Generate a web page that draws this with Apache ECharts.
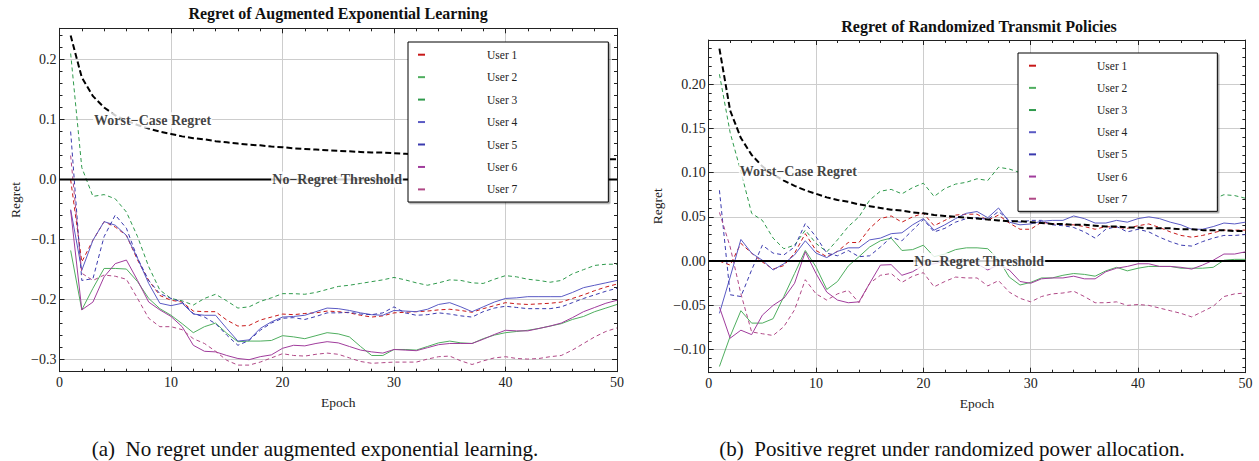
<!DOCTYPE html>
<html>
<head>
<meta charset="utf-8">
<script src="https://cdn.jsdelivr.net/npm/echarts@6/dist/echarts.min.js"></script>
<style>
html,body{margin:0;padding:0;background:#fff;}
#chart{width:1259px;height:461px;}
</style>
</head>
<body>
<div id="chart"></div>
<script>
// ---------------- DATA ----------------
const epochs = [1,2,3,4,5,6,7,8,9,10,11,12,13,14,15,16,17,18,19,20,21,22,23,24,25,26,27,28,29,30,31,32,33,34,35,36,37,38,39,40,41,42,43,44,45,46,47,48,49,50];
const userNames = ['User 1','User 2','User 3','User 4','User 5','User 6','User 7'];

// (a) Augmented exponential learning
const aUser1 = [0.0,-0.137,-0.101,-0.07,-0.079,-0.093,-0.134,-0.168,-0.193,-0.201,-0.204,-0.219,-0.22,-0.22,-0.234,-0.244,-0.243,-0.234,-0.229,-0.224,-0.225,-0.223,-0.222,-0.219,-0.22,-0.222,-0.226,-0.229,-0.227,-0.222,-0.221,-0.22,-0.219,-0.217,-0.216,-0.218,-0.221,-0.215,-0.21,-0.205,-0.207,-0.208,-0.207,-0.206,-0.204,-0.198,-0.192,-0.185,-0.179,-0.174];
const aUser2 = [-0.118,-0.217,-0.181,-0.148,-0.148,-0.149,-0.17,-0.198,-0.215,-0.226,-0.24,-0.255,-0.245,-0.239,-0.256,-0.27,-0.269,-0.269,-0.268,-0.26,-0.262,-0.265,-0.26,-0.255,-0.257,-0.262,-0.278,-0.293,-0.293,-0.283,-0.283,-0.284,-0.278,-0.272,-0.269,-0.272,-0.273,-0.265,-0.259,-0.255,-0.253,-0.251,-0.248,-0.244,-0.24,-0.233,-0.228,-0.22,-0.214,-0.208];
const aUser3 = [0.21,0.02,-0.028,-0.025,-0.032,-0.054,-0.095,-0.145,-0.184,-0.198,-0.202,-0.209,-0.198,-0.191,-0.202,-0.214,-0.212,-0.203,-0.197,-0.19,-0.19,-0.191,-0.188,-0.183,-0.178,-0.176,-0.173,-0.17,-0.167,-0.163,-0.167,-0.172,-0.176,-0.172,-0.167,-0.168,-0.172,-0.173,-0.166,-0.16,-0.162,-0.166,-0.168,-0.171,-0.168,-0.157,-0.15,-0.143,-0.141,-0.141];
const aUser4 = [-0.05,-0.151,-0.101,-0.07,-0.076,-0.093,-0.131,-0.173,-0.206,-0.21,-0.206,-0.224,-0.226,-0.226,-0.248,-0.269,-0.267,-0.248,-0.237,-0.229,-0.228,-0.226,-0.22,-0.214,-0.215,-0.218,-0.222,-0.225,-0.226,-0.218,-0.219,-0.22,-0.216,-0.208,-0.205,-0.212,-0.22,-0.212,-0.204,-0.198,-0.197,-0.195,-0.195,-0.195,-0.195,-0.188,-0.18,-0.176,-0.172,-0.168];
const aUser5 = [0.08,-0.168,-0.165,-0.095,-0.059,-0.081,-0.131,-0.168,-0.19,-0.198,-0.204,-0.223,-0.229,-0.24,-0.259,-0.276,-0.268,-0.251,-0.239,-0.231,-0.23,-0.233,-0.228,-0.222,-0.222,-0.221,-0.224,-0.225,-0.222,-0.212,-0.222,-0.226,-0.225,-0.222,-0.224,-0.227,-0.229,-0.22,-0.214,-0.211,-0.213,-0.215,-0.215,-0.215,-0.212,-0.205,-0.198,-0.192,-0.186,-0.181];
const aUser6 = [-0.051,-0.217,-0.204,-0.162,-0.14,-0.134,-0.168,-0.204,-0.217,-0.228,-0.245,-0.276,-0.286,-0.287,-0.293,-0.298,-0.3,-0.295,-0.292,-0.281,-0.276,-0.277,-0.273,-0.27,-0.272,-0.278,-0.284,-0.287,-0.289,-0.283,-0.284,-0.285,-0.28,-0.275,-0.273,-0.273,-0.273,-0.266,-0.258,-0.251,-0.252,-0.252,-0.248,-0.244,-0.239,-0.23,-0.22,-0.213,-0.206,-0.201];
const aUser7 = [0.04,-0.156,-0.168,-0.159,-0.161,-0.166,-0.198,-0.231,-0.245,-0.245,-0.25,-0.265,-0.273,-0.286,-0.301,-0.309,-0.309,-0.304,-0.297,-0.29,-0.293,-0.294,-0.291,-0.289,-0.291,-0.297,-0.303,-0.306,-0.305,-0.304,-0.304,-0.304,-0.299,-0.295,-0.294,-0.302,-0.308,-0.302,-0.297,-0.295,-0.298,-0.299,-0.298,-0.295,-0.293,-0.284,-0.273,-0.262,-0.253,-0.247];

// (b) Randomized transmit policies
const bUser1 = [0.0,-0.0045,0.02,0.009,-0.001,-0.009,-0.005,0.009,0.031,0.012,0.005,0.011,0.021,0.021,0.037,0.048,0.051,0.044,0.05,0.054,0.04,0.046,0.052,0.053,0.053,0.046,0.052,0.043,0.036,0.036,0.044,0.042,0.041,0.041,0.039,0.036,0.039,0.038,0.037,0.04,0.042,0.038,0.033,0.029,0.027,0.029,0.032,0.035,0.035,0.035];
const bUser2 = [-0.119,-0.085,-0.056,-0.07,-0.07,-0.065,-0.04,-0.014,0.012,-0.0065,-0.032,-0.023,-0.0055,0.005,0.016,0.023,0.026,0.012,0.013,0.018,0.005,0.008,0.013,0.015,0.015,0.014,0.002,-0.018,-0.027,-0.024,-0.019,-0.019,-0.016,-0.014,-0.015,-0.017,-0.011,-0.007,-0.011,-0.008,-0.006,-0.006,-0.006,-0.008,-0.008,-0.008,-0.007,0.001,0.002,0.002];
const bUser3 = [0.211,0.145,0.101,0.054,0.046,0.026,0.014,0.018,0.035,0.02,0.0105,0.024,0.039,0.05,0.069,0.079,0.081,0.076,0.083,0.088,0.073,0.082,0.087,0.089,0.093,0.091,0.106,0.104,0.1,0.098,0.095,0.093,0.09,0.088,0.09,0.087,0.084,0.082,0.085,0.08,0.078,0.076,0.074,0.072,0.07,0.068,0.07,0.075,0.074,0.071];
const bUser4 = [-0.059,-0.018,0.0245,0.009,0.001,-0.01,-0.003,0.007,0.023,0.009,0.004,0.011,0.015,0.015,0.024,0.026,0.031,0.032,0.041,0.048,0.035,0.041,0.048,0.054,0.056,0.049,0.06,0.044,0.041,0.042,0.045,0.046,0.046,0.051,0.048,0.043,0.043,0.046,0.044,0.048,0.05,0.048,0.044,0.041,0.036,0.036,0.039,0.043,0.042,0.044];
const bUser5 = [0.08,-0.038,-0.04,-0.01,0.018,0.009,0.007,0.016,0.0425,0.0275,0.009,0.006,0.012,0.005,0.006,0.016,0.027,0.023,0.035,0.047,0.033,0.037,0.044,0.048,0.049,0.047,0.056,0.046,0.044,0.046,0.046,0.041,0.04,0.038,0.033,0.026,0.036,0.039,0.033,0.036,0.033,0.027,0.022,0.018,0.017,0.022,0.026,0.029,0.029,0.03];
const bUser6 = [-0.052,-0.087,-0.078,-0.083,-0.061,-0.05,-0.042,-0.025,0.0105,-0.014,-0.035,-0.044,-0.047,-0.046,-0.025,-0.0045,-0.004,-0.016,-0.012,-0.0045,-0.003,0.0,0.002,0.0,-0.003,-0.01,-0.004,-0.01,-0.023,-0.025,-0.02,-0.019,-0.019,-0.017,-0.02,-0.02,-0.012,-0.008,-0.006,-0.003,-0.003,-0.006,-0.006,-0.007,-0.009,-0.0045,0.001,0.008,0.008,0.0105];
const bUser7 = [0.055,0.016,-0.037,-0.08,-0.082,-0.084,-0.074,-0.055,-0.021,-0.037,-0.044,-0.037,-0.033,-0.047,-0.025,-0.016,-0.014,-0.024,-0.017,-0.013,-0.029,-0.023,-0.018,-0.019,-0.019,-0.028,-0.022,-0.035,-0.042,-0.046,-0.04,-0.037,-0.036,-0.034,-0.04,-0.047,-0.047,-0.046,-0.05,-0.049,-0.05,-0.053,-0.056,-0.059,-0.063,-0.057,-0.051,-0.04,-0.037,-0.036];

// Worst-case regret bound (same in both panels) and the no-regret threshold
const worstCase = [0.24,0.17,0.139,0.12,0.107,0.098,0.091,0.085,0.08,0.076,0.072,0.069,0.067,0.064,0.062,0.06,0.058,0.057,0.055,0.054,0.052,0.051,0.05,0.049,0.048,0.047,0.046,0.045,0.045,0.044,0.043,0.042,0.042,0.041,0.041,0.04,0.039,0.039,0.038,0.038,0.037,0.037,0.037,0.036,0.036,0.035,0.035,0.035,0.034,0.034];
const thresholdX = [0, 50];
const thresholdY = [0, 0];

// Tick values
const xTicks = [0, 10, 20, 30, 40, 50];
const aYTicks = [-0.3, -0.2, -0.1, 0.0, 0.1, 0.2];
const bYTicks = [-0.10, -0.05, 0.00, 0.05, 0.10, 0.15, 0.20];

// Texts
const titleA = 'Regret of Augmented Exponential Learning';
const titleB = 'Regret of Randomized Transmit Policies';
const captionA = '(a)  No regret under augmented exponential learning.';
const captionB = '(b)  Positive regret under randomized power allocation.';
const worstLabel = 'Worst\u2212Case Regret';
const thresholdLabel = 'No\u2212Regret Threshold';

// ---------------- STYLE ----------------
const F = "'Liberation Serif', 'Times New Roman', serif";
const colors = ['#c81818', '#4fae5f', '#2f9a4c', '#5a5ac4', '#3a3aae', '#a03c9c', '#b04886'];
const dashed = [true, false, true, false, true, false, true];
const frameColor = '#222';
const gridColor = '#cdcdcd';

function minorTicks(lo, hi, step, dec) {
  const out = [];
  const n = Math.round((hi - lo) / step);
  for (let k = 0; k <= n; k++) out.push(+(lo + k * step).toFixed(dec));
  return out;
}

function fmt(dec) {
  return v => (v < -1e-9 ? '\u2212' : '') + Math.abs(v).toFixed(dec);
}

function xAxes(g, nameGap) {
  const common = {
    type: 'value', gridIndex: g, min: 0, max: 50, interval: 10,
    axisLine: { show: true, onZero: false, lineStyle: { color: frameColor, width: 1 } },
    axisTick: { show: true, inside: true, length: 5, lineStyle: { color: frameColor } },
    minorTick: { show: true, splitNumber: 5, length: 3, lineStyle: { color: frameColor } },
    minorSplitLine: { show: false }
  };
  return [
    Object.assign({}, common, {
      position: 'bottom',
      axisLabel: { show: true, margin: 4, fontFamily: F, fontSize: 14, color: '#222',
                   customValues: xTicks },
      splitLine: { show: true, lineStyle: { color: gridColor, width: 1 } },
      name: 'Epoch', nameLocation: 'middle', nameGap: nameGap,
      nameTextStyle: { fontFamily: F, fontSize: 13.5, color: '#222' }
    }),
    Object.assign({}, common, {
      position: 'top',
      axisLabel: { show: false },
      splitLine: { show: false }
    })
  ];
}

function yAxes(g, min, max, major, minor, dec, nameGap, splitNumber) {
  const base = { type: 'value', gridIndex: g, min: min, max: max, splitNumber: splitNumber };
  return [
    Object.assign({}, base, {
      position: 'left',
      axisLine: { show: true, onZero: false, lineStyle: { color: frameColor, width: 1 } },
      axisTick: { show: true, inside: true, length: 5, customValues: major, lineStyle: { color: frameColor } },
      axisLabel: { show: true, margin: 3, customValues: major, formatter: fmt(dec),
                   fontFamily: F, fontSize: 14, color: '#222' },
      splitLine: { show: true, lineStyle: { color: gridColor, width: 1 } },
      name: 'Regret', nameLocation: 'middle', nameGap: nameGap,
      nameTextStyle: { fontFamily: F, fontSize: 13.5, color: '#222' }
    }),
    Object.assign({}, base, {
      position: 'left',
      axisLine: { show: false, onZero: false },
      axisTick: { show: true, inside: true, length: 3, customValues: minor, lineStyle: { color: frameColor } },
      axisLabel: { show: false },
      splitLine: { show: false }
    }),
    Object.assign({}, base, {
      position: 'right',
      axisLine: { show: true, onZero: false, lineStyle: { color: frameColor, width: 1 } },
      axisTick: { show: true, inside: true, length: 5, customValues: major, lineStyle: { color: frameColor } },
      axisLabel: { show: false },
      splitLine: { show: false }
    }),
    Object.assign({}, base, {
      position: 'right',
      axisLine: { show: false, onZero: false },
      axisTick: { show: true, inside: true, length: 3, customValues: minor, lineStyle: { color: frameColor } },
      axisLabel: { show: false },
      splitLine: { show: false }
    })
  ];
}

function panelSeries(g, users, worstPos, threshPos) {
  const xi = g * 2, yi = g * 4;
  const list = users.map((arr, i) => ({
    type: 'line', name: userNames[i], xAxisIndex: xi, yAxisIndex: yi,
    data: epochs.map((e, k) => [e, arr[k]]),
    symbol: 'none', showSymbol: false, color: colors[i],
    lineStyle: { color: colors[i], width: 1, type: dashed[i] ? [4, 3] : 'solid' },
    z: 2, silent: true, animation: false
  }));
  list.push({
    type: 'line', name: 'Worst-case', xAxisIndex: xi, yAxisIndex: yi,
    data: epochs.map((e, k) => [e, worstCase[k]]),
    symbol: 'none', showSymbol: false, color: '#000',
    lineStyle: { color: '#000', width: 2, type: [6, 3] },
    z: 3, silent: true, animation: false
  });
  list.push({
    type: 'line', name: 'Threshold', xAxisIndex: xi, yAxisIndex: yi,
    data: thresholdX.map((x, k) => [x, thresholdY[k]]),
    symbol: 'none', showSymbol: false, color: '#000',
    lineStyle: { color: '#000', width: 2, type: 'solid' },
    z: 3, silent: true, animation: false
  });
  list.push({
    type: 'scatter', name: 'labels', xAxisIndex: xi, yAxisIndex: yi,
    symbol: 'rect', symbolSize: 1, itemStyle: { color: 'rgba(0,0,0,0)' },
    data: [
      { value: worstPos, label: { formatter: worstLabel } },
      { value: threshPos, label: { formatter: thresholdLabel } }
    ],
    label: { show: true, position: 'inside', fontFamily: F, fontWeight: 'bold', fontSize: 14,
             color: '#111', backgroundColor: '#fff', padding: [1, 1] },
    z: 10, silent: true, animation: false
  });
  return list;
}

const aYMinor = minorTicks(-0.32, 0.24, 0.02, 2);
const bYMinor = minorTicks(-0.12, 0.24, 0.01, 2);

const legendCommon = {
  orient: 'vertical', icon: 'rect', itemWidth: 7, itemHeight: 2,
  borderColor: '#000', borderWidth: 1, backgroundColor: '#fff',
  shadowColor: 'rgba(0,0,0,0.35)', shadowBlur: 1, shadowOffsetX: 1.5, shadowOffsetY: 1.5,
  itemStyle: { borderWidth: 0 },
  selectedMode: false, z: 6,
  data: userNames
};

const option = {
  animation: false,
  backgroundColor: '#fff',
  title: [
    { text: titleA, left: 338, top: 5, textAlign: 'center', padding: 0,
      textStyle: { fontFamily: F, fontSize: 16, fontWeight: 'bold', color: '#111' } },
    { text: titleB, left: 979, top: 18, textAlign: 'center', padding: 0,
      textStyle: { fontFamily: F, fontSize: 16, fontWeight: 'bold', color: '#111' } },
    { text: captionA, left: 315, top: 438, textAlign: 'center', padding: 0,
      textStyle: { fontFamily: F, fontSize: 21, fontWeight: 'normal', color: '#111' } },
    { text: captionB, left: 952, top: 438, textAlign: 'center', padding: 0,
      textStyle: { fontFamily: F, fontSize: 21, fontWeight: 'normal', color: '#111' } }
  ],
  legend: [
    Object.assign({}, legendCommon, {
      left: 408, top: 42, itemGap: 8.45, padding: [5.7, 91, 5.6, 10],
      textStyle: { fontFamily: F, fontSize: 11.5, color: '#222', lineHeight: 14, padding: [0, 0, 0, 57] }
    }),
    Object.assign({}, legendCommon, {
      left: 1018, top: 53, itemGap: 8.17, padding: [5.7, 90, 5.6, 11],
      textStyle: { fontFamily: F, fontSize: 11.5, color: '#222', lineHeight: 14, padding: [0, 0, 0, 56] }
    })
  ],
  grid: [
    { left: 59.5, top: 28.3, width: 557.5, height: 343.4, containLabel: false },
    { left: 708.7, top: 40, width: 536.7, height: 332.7, containLabel: false }
  ],
  xAxis: [].concat(xAxes(0, 24), xAxes(1, 24)),
  yAxis: [].concat(
    yAxes(0, -0.32, 0.252, aYTicks, aYMinor, 1, 37, 6),
    yAxes(1, -0.126, 0.2497, bYTicks, bYMinor, 2, 44, 8)
  ),
  series: [].concat(
    panelSeries(0, [aUser1, aUser2, aUser3, aUser4, aUser5, aUser6, aUser7], [8.35, 0.099], [24.9, 0]),
    panelSeries(1, [bUser1, bUser2, bUser3, bUser4, bUser5, bUser6, bUser7], [8.35, 0.101], [25.2, 0])
  )
};

const chart = echarts.init(document.getElementById('chart'), null, { renderer: 'svg' });
chart.setOption(option);
</script>
</body>
</html>
